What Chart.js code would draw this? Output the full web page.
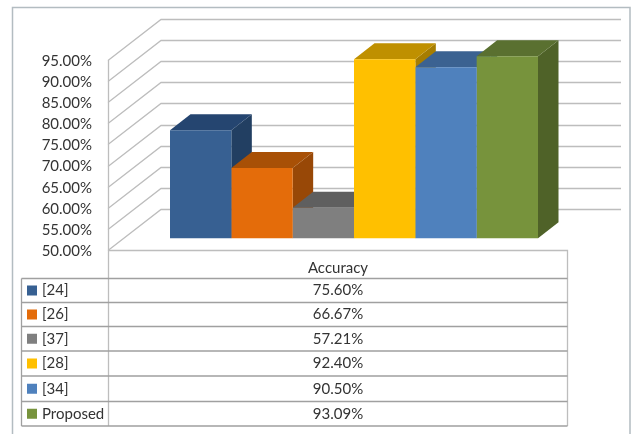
<!DOCTYPE html>
<html>
<head>
<meta charset="utf-8">
<style>html,body{margin:0;padding:0;background:#fff}canvas{display:block}</style>
<script src="https://cdn.jsdelivr.net/npm/chart.js@4"></script>
</head>
<body>
<canvas id="c" width="631" height="434"></canvas>
<script>
const categories = ['Accuracy'];
const seriesNames = ['[24]', '[26]', '[37]', '[28]', '[34]', 'Proposed'];
const seriesValues = [75.60, 66.67, 57.21, 92.40, 90.50, 93.09];
const frontColors = ['#376092', '#E46C0A', '#7F7F7F', '#FFC000', '#4F81BD', '#77933C'];
const topColors = ['#254570', '#A85006', '#5F5F5F', '#BF9000', '#3B6291', '#5A7030'];
const sideColors = ['#223F62', '#984807', '#555555', '#A67D00', '#355A86', '#4F6228'];
const yMin = 50, yMax = 95, yStep = 5;
const FONT = 'Lato, "Noto Sans", sans-serif';
const FONT_SIZE = 15;
const TEXT = '#333333', GRID = '#bdbdbd', RULE = '#a0a0a0';
// 3D projection of the plot box
const wallDX = 53, wallDY = -41, barOffX = 16, barOffY = -11.7, barDX = 20.5, barDY = -16;
// data table under the plot
const rowLines = [278.5, 302.5, 326.5, 351, 376, 401.5, 426];

const box3d = {
  id: 'box3d',
  beforeDatasetsDraw(chart) {
    const c = chart.ctx, y = chart.scales.y, a = chart.chartArea;
    c.save();
    c.strokeStyle = GRID; c.lineWidth = 1.3;
    y.ticks.forEach((t, i) => {
      const p = Math.round(y.getPixelForTick(i)) + 0.5;
      c.beginPath();
      c.moveTo(a.left, p);
      c.lineTo(a.left + wallDX, p + wallDY);
      c.lineTo(a.right + wallDX, p + wallDY);
      c.stroke();
    });
    c.restore();
    c.save();
    c.translate(barOffX, barOffY);
    chart.data.datasets.forEach((ds, i) => {
      const m = chart.getDatasetMeta(i).data[0];
      const l = m.x - m.width / 2, r = m.x + m.width / 2, t = m.y, b = m.base;
      c.fillStyle = sideColors[i];
      c.beginPath();
      c.moveTo(r, t); c.lineTo(r + barDX, t + barDY); c.lineTo(r + barDX, b + barDY); c.lineTo(r, b);
      c.closePath(); c.fill();
      c.fillStyle = topColors[i];
      c.beginPath();
      c.moveTo(l, t); c.lineTo(l + barDX, t + barDY); c.lineTo(r + barDX, t + barDY); c.lineTo(r, t);
      c.closePath(); c.fill();
    });
    // the chart's own bars (front faces) are drawn inside this shifted frame
  },
  afterDatasetsDraw(chart) {
    chart.ctx.restore();
  },
  afterDraw(chart) {
    const c = chart.ctx, a = chart.chartArea;
    const left = 21.5, right = a.right - 0.5, axisX = a.left + 0.5;
    c.save();
    // outer frame
    c.strokeStyle = '#b3bcc1'; c.lineWidth = 1.5;
    c.beginPath();
    c.moveTo(12.5, 434); c.lineTo(12.5, 7.5); c.lineTo(630, 7.5); c.lineTo(630, 434);
    c.stroke();
    // table
    c.lineWidth = 1.3;
    c.strokeStyle = GRID;
    c.beginPath();
    c.moveTo(axisX, a.top); c.lineTo(axisX, rowLines[rowLines.length - 1]);
    c.moveTo(a.left, 250.5); c.lineTo(right, 250.5);
    c.lineTo(right, rowLines[rowLines.length - 1]);
    c.stroke();
    c.strokeStyle = RULE;
    c.beginPath();
    rowLines.forEach(v => { c.moveTo(left, v); c.lineTo(right, v); });
    c.moveTo(left, rowLines[0]); c.lineTo(left, rowLines[rowLines.length - 1]);
    c.stroke();
    c.font = FONT_SIZE + 'px ' + FONT;
    c.textBaseline = 'middle';
    seriesNames.forEach((n, i) => {
      const mid = (rowLines[i] + rowLines[i + 1]) / 2;
      c.fillStyle = frontColors[i];
      c.fillRect(27, mid - 5, 10, 10);
      c.fillStyle = TEXT;
      c.textAlign = 'left';
      c.fillText(n, 42, mid);
      c.textAlign = 'center';
      c.fillText(seriesValues[i].toFixed(2) + '%', (a.left + a.right) / 2, mid);
    });
    c.restore();
  }
};

new Chart(document.getElementById('c'), {
  type: 'bar',
  plugins: [box3d],
  data: {
    labels: categories,
    datasets: seriesNames.map((n, i) => ({
      label: n,
      data: [seriesValues[i]],
      backgroundColor: frontColors[i],
      borderWidth: 0,
      barPercentage: 1,
      categoryPercentage: 0.8,
      base: yMin,
      clip: false
    }))
  },
  options: {
    responsive: false,
    animation: false,
    layout: { padding: { top: 60, right: 63, left: 0, bottom: 0 } },
    plugins: { legend: { display: false }, title: { display: false }, tooltip: { enabled: false } },
    scales: {
      x: {
        afterFit(s) { s.height = 184; },
        grid: { display: false, drawTicks: false },
        border: { display: false },
        ticks: { color: TEXT, font: { family: FONT, size: FONT_SIZE }, padding: 9 }
      },
      y: {
        min: yMin, max: yMax,
        afterFit(s) { s.width = 108; },
        grid: { display: false, drawTicks: false },
        border: { display: false },
        ticks: {
          stepSize: yStep,
          color: TEXT,
          padding: 16,
          labelOffset: 1,
          font: { family: FONT, size: FONT_SIZE },
          callback: v => v.toFixed(2) + '%'
        }
      }
    }
  }
});
</script>
</body>
</html>
